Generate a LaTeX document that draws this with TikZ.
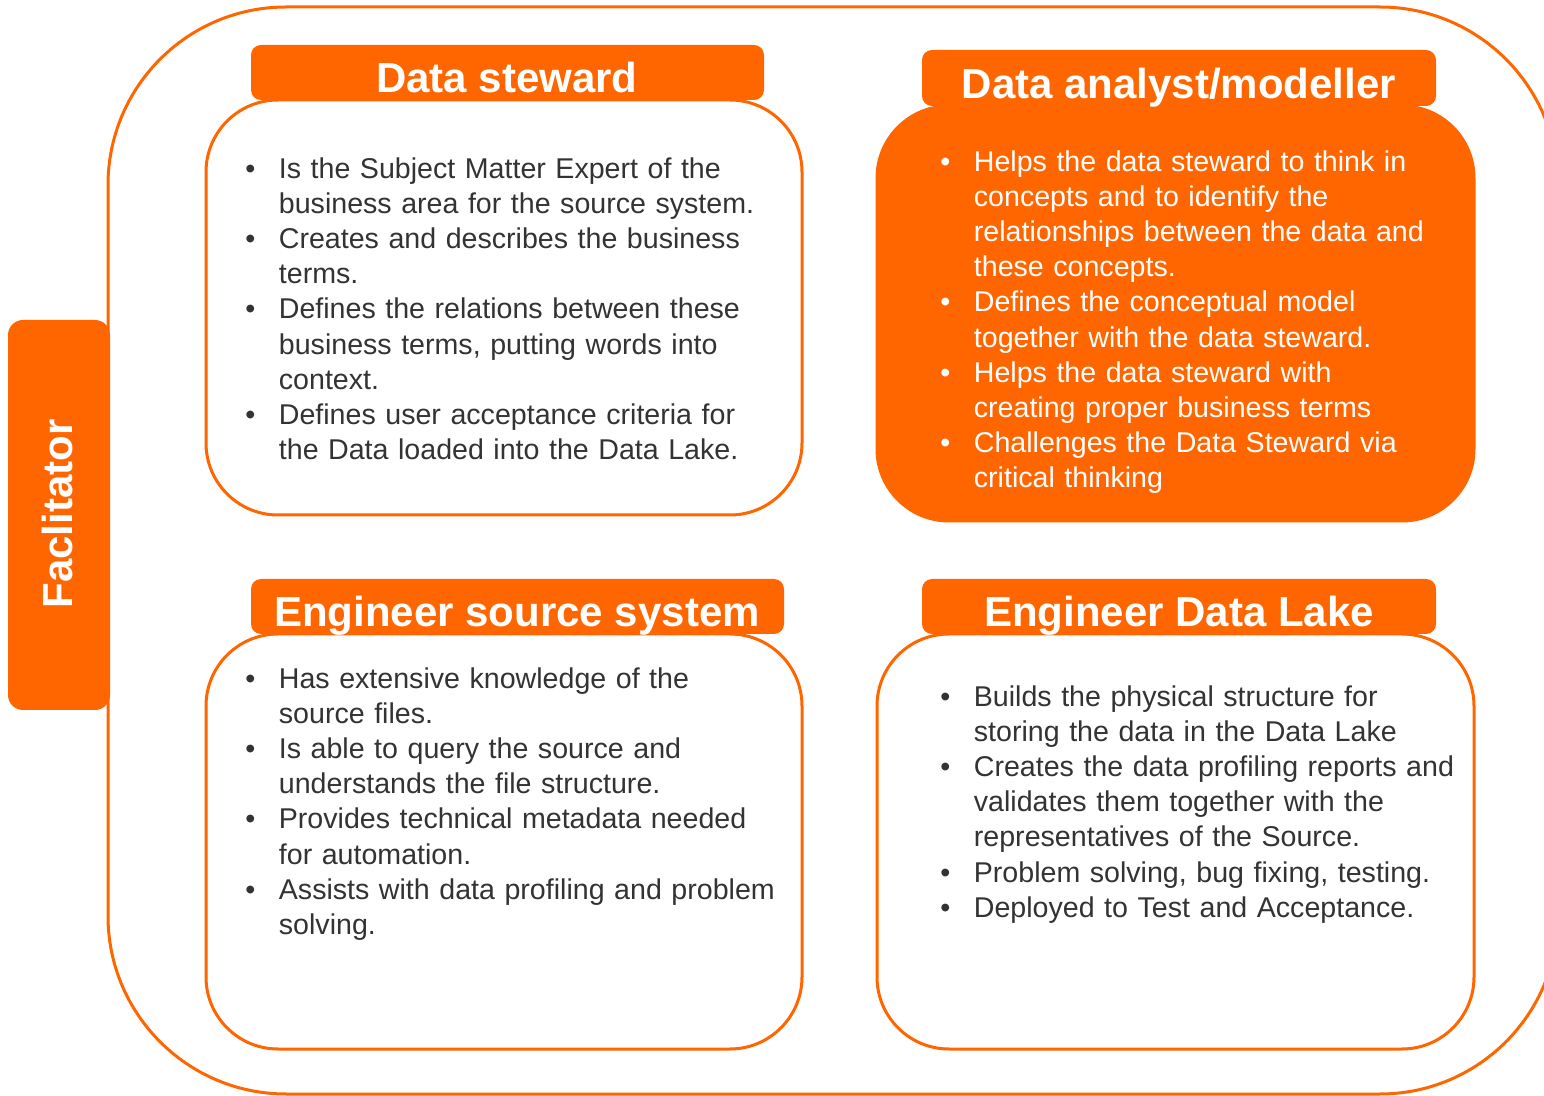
\documentclass[tikz,border=0pt]{standalone}
\usepackage{fontspec}
\setmainfont{Liberation Sans}
\definecolor{brand}{HTML}{FF6600}
\definecolor{ink}{HTML}{333333}
\newcommand\bul[1]{\hangindent=16.75pt\hangafter=1\noindent\makebox[16.75pt][l]{\textbullet}#1\par}

\begin{document}
\begin{tikzpicture}[x=.5pt, y=-.5pt, line join=round, line cap=round,
	panel/.style={draw=brand, line width=1.5pt, rounded corners=36pt},
	tab/.style={fill=brand, rounded corners=5pt},
	head/.style={text=white, font=\fontsize{21}{25}\selectfont\bfseries, anchor=base, inner sep=0},
	txt/.style={anchor=north west, inner sep=0, text width=295pt, align=left, text=ink, font=\fontsize{14.3}{17.6}\selectfont}]
	\useasboundingbox (0,0) rectangle (1544,1096);
	\clip (0,0) rectangle (1544,1096);
	% facilitator tab and outer frame
	\fill[brand, rounded corners=7.5pt] (8,320) rectangle (110,710);
	\node[head, rotate=90] (fac) at (72,514) {Faclitator};
	\draw[brand, line width=1.5pt, rounded corners=89pt] (108,7) rectangle (1558,1094);
	% panels
	\draw[panel, fill=white] (206,100) rectangle (802,515);
	\draw[panel, fill=brand] (877,106) rectangle (1474,521);
	\draw[panel, fill=white] (206,634) rectangle (802,1049);
	\draw[panel, fill=white] (877,634) rectangle (1474,1049);
	\fill[tab] (251,45) rectangle (764,100);
	\fill[tab] (922,50) rectangle (1436,106);
	\fill[tab] (251,579) rectangle (784,634);
	\fill[tab] (922,579) rectangle (1436,634);
	\node[head] (steward) at (507,93) {Data steward};
	\node[head] (analyst) at (1179,99) {Data analyst/modeller};
	\node[head] (source) at (517,627) {Engineer source system};
	\node[head] (lake) at (1179,627) {Engineer Data Lake};
	% bullet texts
	\node[txt] (stewardtxt) at (245,157) {%
		\bul{Is the Subject Matter Expert of the\newline business area for the source system.}
		\bul{Creates and describes the business\newline terms.}
		\bul{Defines the relations between these\newline business terms, putting words into\newline context.}
		\bul{Defines user acceptance criteria for\newline the Data loaded into the Data Lake.}};
	\node[txt, text=white] (analysttxt) at (940,150) {%
		\bul{Helps the data steward to think in\newline concepts and to identify the\newline relationships between the data and\newline these concepts.}
		\bul{Defines the conceptual model\newline together with the data steward.}
		\bul{Helps the data steward with\newline creating proper business terms}
		\bul{Challenges the Data Steward via\newline critical thinking}};
	\node[txt] (sourcetxt) at (245,667) {%
		\bul{Has extensive knowledge of the\newline source files.}
		\bul{Is able to query the source and\newline understands the file structure.}
		\bul{Provides technical metadata needed\newline for automation.}
		\bul{Assists with data profiling and problem\newline solving.}};
	\node[txt] (laketxt) at (940,685) {%
		\bul{Builds the physical structure for\newline storing the data in the Data Lake}
		\bul{Creates the data profiling reports and\newline validates them together with the\newline representatives of the Source.}
		\bul{Problem solving, bug fixing, testing.}
		\bul{Deployed to Test and Acceptance.}};
\end{tikzpicture}
\end{document}
